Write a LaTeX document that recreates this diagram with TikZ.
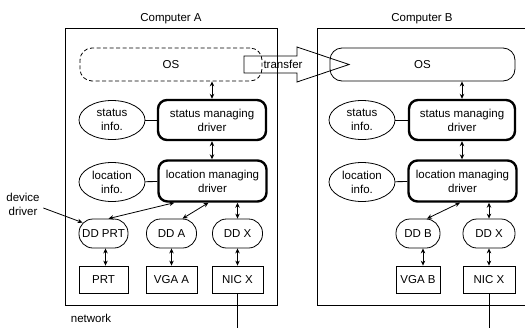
\documentclass[tikz,border=0pt]{standalone}
\usepackage{fontspec}
\setmainfont{Liberation Sans}
\usetikzlibrary{arrows.meta, shapes.geometric}

\begin{document}
\begin{tikzpicture}[
    x=1pt, y=-1pt,
    line width=0.8pt,
    pcbox/.style={
        rectangle,
        draw,
        minimum width=212pt,
        minimum height=277pt
    },
    osbox/.style={
        rectangle,
        draw,
        rounded corners=12pt,
        minimum width=182pt,
        minimum height=33pt
    },
    drvbox/.style={
        rectangle,
        draw,
        line width=2.4pt,
        rounded corners=9pt,
        minimum width=108pt,
        minimum height=40pt,
        align=center
    },
    infonode/.style={
        ellipse,
        draw,
        minimum width=66pt,
        minimum height=39pt,
        inner sep=0pt,
        align=center
    },
    ddnode/.style={
        rectangle,
        draw,
        rounded corners=14pt,
        minimum width=50pt,
        minimum height=29pt,
        inner sep=1pt
    },
    devbox/.style={
        rectangle,
        draw,
        minimum width=50pt,
        minimum height=27pt
    },
    >={Stealth[length=5pt, width=4.5pt]},
    every node/.style={font=\fontsize{11.5}{14}\selectfont}
]
\useasboundingbox (0,0) rectangle (525,327);

% the two computers
\node[pcbox, label=above:Computer A] (pcA) at (171,166.5) {};
\node[pcbox, minimum width=210pt, label=above:Computer B] (pcB) at (422,166.5) {};

% operating systems and the transfer
\node[osbox, dash pattern=on 4pt off 2.5pt] (osA) at (171,64.5) {OS};
\node[osbox, minimum width=185pt] (osB) at (422.5,64.5) {OS};
\draw (244,56) -- (297,56) -- (297,47) -- (349,64.5) -- (297,82) -- (297,73) -- (244,73) -- cycle;
\node (xfer) at (283,64.5) {transfer};

% computer A
\node[infonode] (sinfoA) at (112,120) {status\\info.};
\node[drvbox] (sdrvA) at (212,120) {status managing\\driver};
\node[infonode] (linfoA) at (112,182) {location\\info.};
\node[drvbox, minimum height=41pt] (ldrvA) at (212.5,181) {location managing\\driver};

\node[ddnode, minimum width=49pt] (ddprt) at (103.5,233.5) {DD PRT};
\node[ddnode] (ddA) at (171.5,233.5) {DD A};
\node[ddnode] (ddxA) at (237.5,233.5) {DD X};

\node[devbox, minimum width=49pt] (prt) at (103.5,279.5) {PRT};
\node[devbox, minimum width=51pt] (vgaA) at (171.5,279.5) {VGA A};
\node[devbox, minimum width=51pt] (nicxA) at (237.5,279.5) {NIC X};

\node[align=center] (ddlabel) at (23,204) {device\\driver};

% computer B
\node[infonode] (sinfoB) at (362,120) {status\\info.};
\node[drvbox, minimum width=106pt] (sdrvB) at (462,120) {status managing\\driver};
\node[infonode] (linfoB) at (362,182) {location\\info.};
\node[drvbox, minimum height=41pt] (ldrvB) at (462.5,181) {location managing\\driver};

\node[ddnode, minimum width=44pt] (ddB) at (418,233.5) {DD B};
\node[ddnode, minimum width=52pt] (ddxB) at (489,233.5) {DD X};

\node[devbox, minimum width=44pt] (vgaB) at (418,279.5) {VGA B};
\node[devbox, minimum width=52pt] (nicxB) at (489,279.5) {NIC X};

% network
\node (net) at (91,318) {network};
\coordinate (netA) at ([yshift=-40pt]nicxA.south);
\coordinate (netB) at ([yshift=-40pt]nicxB.south);

% connectors A
\draw[<->] (sdrvA.north |- osA.south) -- (sdrvA.north);
\draw[<->] (sdrvA.south) -- (ldrvA.north -| sdrvA.south);
\draw (sinfoA) -- (sdrvA);
\draw (linfoA) -- (ldrvA);
\draw[<->] ([xshift=17pt]ldrvA.south west) -- ([xshift=5pt]ddprt.north);
\draw[<->] ([xshift=-4pt]ldrvA.south) -- ([xshift=11pt]ddA.north);
\draw[<->] (ldrvA.south -| ddxA.north) -- (ddxA.north);
\draw[<->] ([xshift=2pt]ddprt.south) -- ([xshift=2pt]prt.north);
\draw[<->] (ddA) -- (vgaA);
\draw[<->] (ddxA) -- (nicxA);
\draw (nicxA) -- (netA);
\draw[->] ([yshift=-4pt]ddlabel.east) -- ([xshift=4pt, yshift=-4pt]ddprt.north west);

% connectors B
\draw[<->] (sdrvB.north |- osB.south) -- (sdrvB.north);
\draw[<->] (sdrvB.south) -- (ldrvB.north -| sdrvB.south);
\draw (sinfoB) -- (sdrvB);
\draw (linfoB) -- (ldrvB);
\draw[<->] ([xshift=-2.5pt]ldrvB.south) -- ([xshift=9pt]ddB.north);
\draw[<->] (ldrvB.south -| ddxB.north) -- (ddxB.north);
\draw[<->] ([xshift=5pt]ddB.south) -- ([xshift=5pt]vgaB.north);
\draw[<->] (ddxB) -- (nicxB);
\draw (nicxB) -- (netB);

\end{tikzpicture}
\end{document}
